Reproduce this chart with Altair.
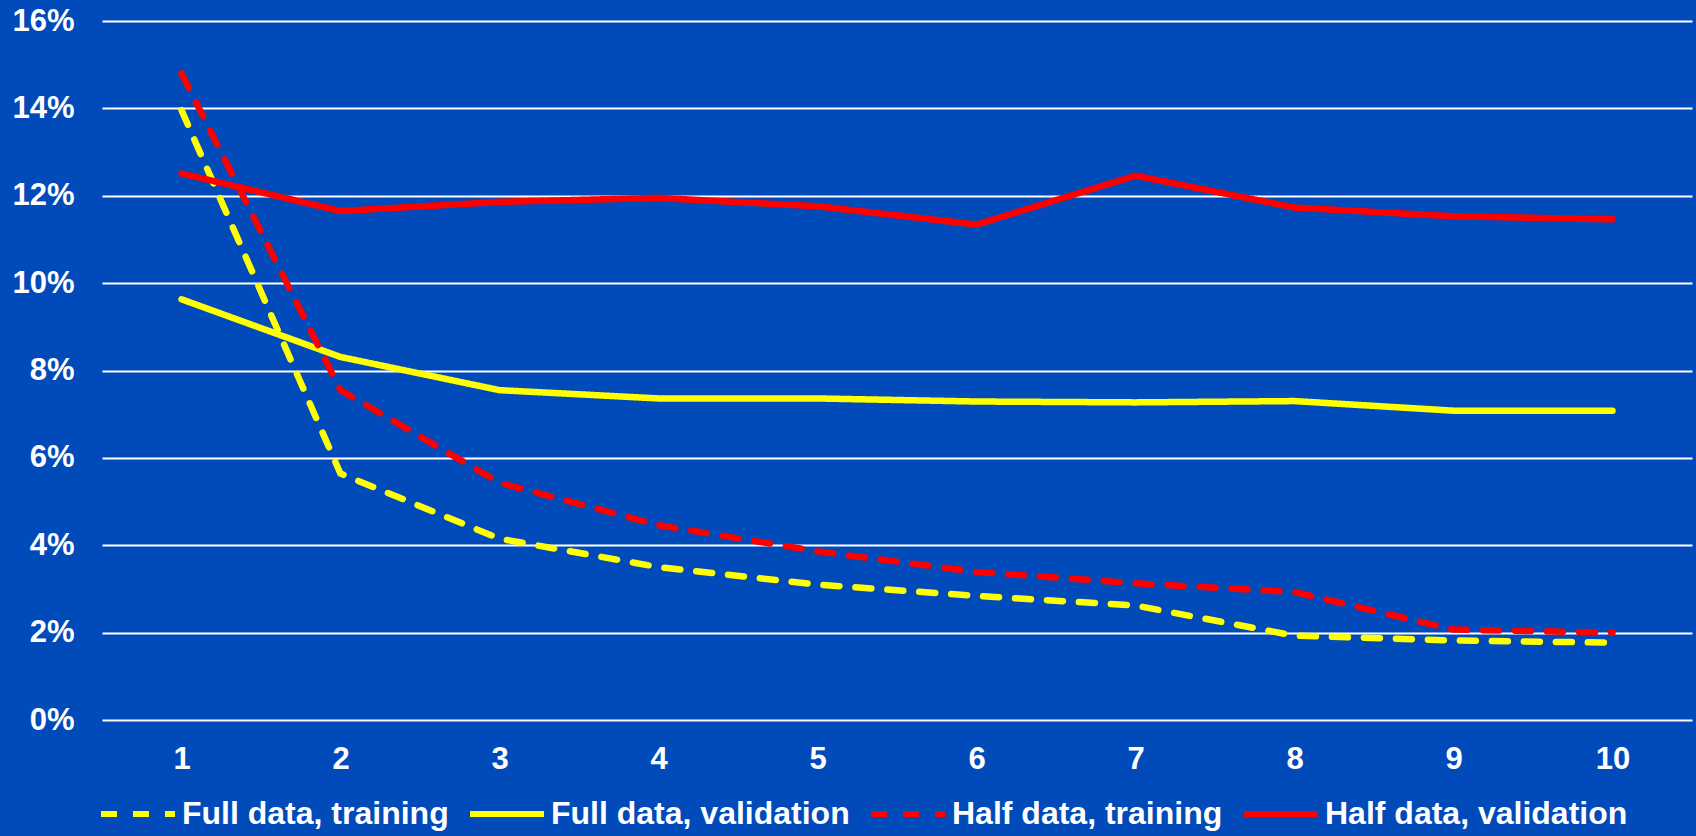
import altair as alt
import pandas as pd

epochs = [1, 2, 3, 4, 5, 6, 7, 8, 9, 10]
series_names = [
    "Full data, training",
    "Full data, validation",
    "Half data, training",
    "Half data, validation",
]
full_train = [13.96, 5.64, 4.15, 3.50, 3.10, 2.84, 2.62, 1.93, 1.82, 1.77]
full_val = [9.63, 8.31, 7.55, 7.36, 7.36, 7.29, 7.27, 7.30, 7.08, 7.08]
half_train = [14.80, 7.55, 5.43, 4.46, 3.86, 3.39, 3.13, 2.93, 2.07, 2.00]
half_val = [12.51, 11.65, 11.86, 11.95, 11.76, 11.34, 12.46, 11.73, 11.53, 11.46]
y_ticks = [0, 0.02, 0.04, 0.06, 0.08, 0.10, 0.12, 0.14, 0.16]

series_colors = ["#FFFF00", "#FFFF00", "#FF0000", "#FF0000"]
series_dashes = [[16, 16], [1, 0], [16, 16], [1, 0]]

rows = []
for name, vals in zip(series_names, [full_train, full_val, half_train, half_val]):
    for e, v in zip(epochs, vals):
        rows.append({"epoch": e, "value": v / 100.0, "series": name})
df = pd.DataFrame(rows)

BG = "#004AB9"
FONT = "Liberation Sans"

legend = alt.Legend(
    title=None,
    orient="none",
    direction="horizontal",
    legendX=-4,
    legendY=753,
    symbolType="stroke",
    symbolSize=74 * 74,
    symbolStrokeWidth=6,
    labelFont=FONT,
    labelFontSize=32,
    labelFontWeight="bold",
    labelColor="white",
    labelOffset=4,
    columnPadding=9,
    padding=0,
    labelLimit=0,
)

chart = (
    alt.Chart(df)
    .mark_line(strokeWidth=6.5, strokeCap="round", strokeJoin="round")
    .encode(
        x=alt.X(
            "epoch:O",
            scale=alt.Scale(type="point", padding=0.5),
            axis=alt.Axis(
                title=None,
                labelAngle=0,
                domain=False,
                ticks=False,
                tickSize=0,
                grid=False,
                labelPadding=24,
                labelFont=FONT,
                labelFontSize=31,
                labelFontWeight="bold",
                labelColor="white",
            ),
        ),
        y=alt.Y(
            "value:Q",
            scale=alt.Scale(domain=[0, 0.16], nice=False, zero=True),
            axis=alt.Axis(
                title=None,
                values=y_ticks,
                format=".0%",
                domain=False,
                ticks=False,
                tickSize=0,
                grid=True,
                gridColor="white",
                gridWidth=2,
                labelPadding=28,
                labelFont=FONT,
                labelFontSize=31,
                labelFontWeight="bold",
                labelColor="white",
            ),
        ),
        color=alt.Color(
            "series:N",
            scale=alt.Scale(domain=series_names, range=series_colors),
            sort=series_names,
            legend=legend,
        ),
        strokeDash=alt.StrokeDash(
            "series:N",
            scale=alt.Scale(domain=series_names, range=series_dashes),
            sort=series_names,
            legend=legend,
        ),
    )
    .properties(
        width=1590,
        height=699,
        background=BG,
        autosize=alt.AutoSizeParams(type="none"),
        padding={"left": 102, "top": 21, "right": 4, "bottom": 116},
    )
    .configure_view(stroke=None, fill=BG)
)

chart.save("out.html", embed_options={"renderer": "svg", "actions": False})
